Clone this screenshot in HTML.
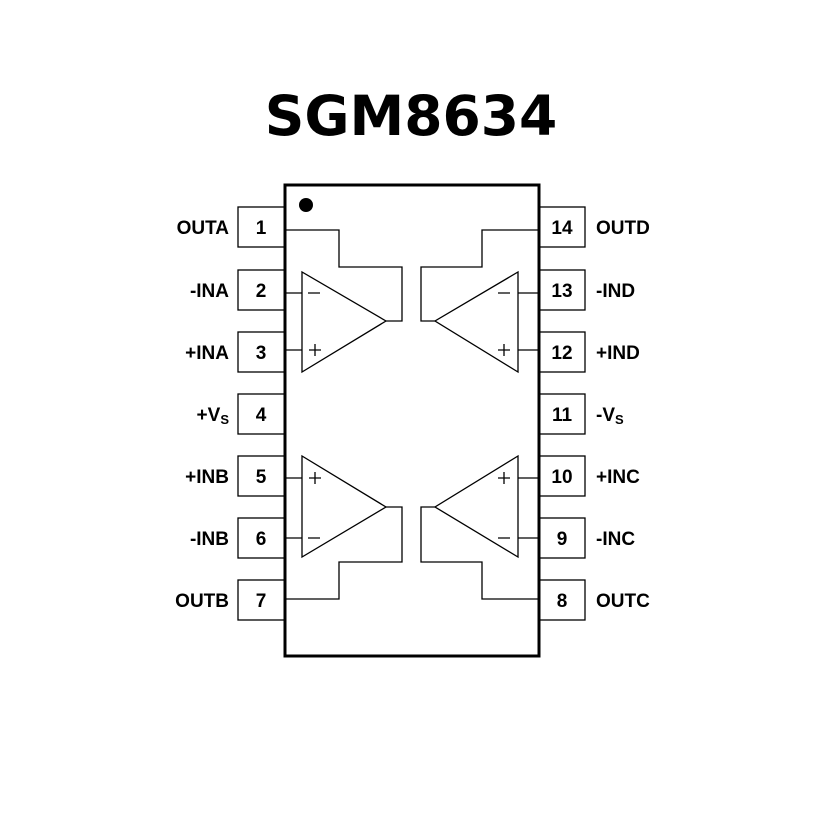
<!DOCTYPE html>
<html><head><style>body{margin:0;background:#fff}</style></head><body>
<svg width="827" height="827" viewBox="0 0 827 827" xmlns="http://www.w3.org/2000/svg" font-family="Liberation Sans, sans-serif">
<text x="411" y="135" text-anchor="middle" font-size="55" font-weight="bold" font-family="DejaVu Sans, sans-serif">SGM8634</text>
<g fill="#fff" stroke="#000" stroke-width="1.3">
<rect x="238" y="207" width="47" height="40"/><rect x="238" y="270" width="47" height="40"/><rect x="238" y="332" width="47" height="40"/><rect x="238" y="394" width="47" height="40"/><rect x="238" y="456" width="47" height="40"/><rect x="238" y="518" width="47" height="40"/><rect x="238" y="580" width="47" height="40"/>
<rect x="539" y="207" width="46" height="40"/><rect x="539" y="270" width="46" height="40"/><rect x="539" y="332" width="46" height="40"/><rect x="539" y="394" width="46" height="40"/><rect x="539" y="456" width="46" height="40"/><rect x="539" y="518" width="46" height="40"/><rect x="539" y="580" width="46" height="40"/>
</g>
<rect x="285" y="185" width="254" height="471" fill="#fff" stroke="#000" stroke-width="3"/>
<circle cx="306" cy="205" r="7"/>
<g fill="none" stroke="#000" stroke-width="1.3">
<polygon points="302,272 302,372 386,321"/>
<polygon points="302,456 302,557 386,507"/>
<polygon points="518,272 518,372 435,321"/>
<polygon points="518,456 518,557 435,507"/>
<path d="M285 293H302M285 350H302M386 321H402V267H339V230H285"/>
<path d="M285 478H302M285 538H302M386 507H402V562H339V599H285"/>
<path d="M539 293H518M539 350H518M435 321H421V267H482V230H539"/>
<path d="M539 478H518M539 538H518M435 507H421V562H482V599H539"/>
<path d="M308 293H320M309 350H321M315 344V356M308 538H320M309 478H321M315 472V484M498 293H510M498 350H510M504 344V356M498 538H510M498 478H510M504 472V484"/>
</g>
<g font-size="19" font-weight="bold" text-anchor="middle">
<text x="261" y="234">1</text><text x="261" y="297">2</text><text x="261" y="359">3</text><text x="261" y="421">4</text><text x="261" y="483">5</text><text x="261" y="545">6</text><text x="261" y="607">7</text>
<text x="562" y="234">14</text><text x="562" y="297">13</text><text x="562" y="359">12</text><text x="562" y="421">11</text><text x="562" y="483">10</text><text x="562" y="545">9</text><text x="562" y="607">8</text>
</g>
<g font-size="19" font-weight="bold" text-anchor="end">
<text x="229" y="234">OUTA</text><text x="229" y="297">-INA</text><text x="229" y="359">+INA</text><text x="229" y="421">+V<tspan font-size="13" dy="3">S</tspan></text><text x="229" y="483">+INB</text><text x="229" y="545">-INB</text><text x="229" y="607">OUTB</text>
</g>
<g font-size="19" font-weight="bold">
<text x="596" y="234">OUTD</text><text x="596" y="297">-IND</text><text x="596" y="359">+IND</text><text x="596" y="421">-V<tspan font-size="13" dy="3">S</tspan></text><text x="596" y="483">+INC</text><text x="596" y="545">-INC</text><text x="596" y="607">OUTC</text>
</g>
</svg>
</body></html>
